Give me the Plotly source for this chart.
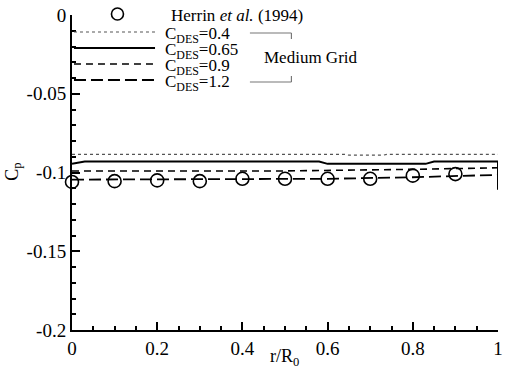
import plotly.graph_objects as go

# ---- data ----
r_exp = [0.0, 0.1, 0.2, 0.3, 0.4, 0.5, 0.6, 0.7, 0.8, 0.9]
cp_exp = [-0.106, -0.1055, -0.105, -0.1055, -0.104, -0.104, -0.104, -0.104, -0.102, -0.101]

r_04 = [0.0, 0.64, 0.65, 0.73, 0.74, 1.0]
cp_04 = [-0.0885, -0.0885, -0.089, -0.089, -0.0885, -0.0885]

r_065 = [0.0, 0.03, 0.58, 0.6, 0.83, 0.85, 1.0, 1.0]
cp_065 = [-0.0945, -0.093, -0.093, -0.0945, -0.0945, -0.093, -0.093, -0.111]

r_09 = [0.0, 0.5, 0.8, 1.0]
cp_09 = [-0.099, -0.099, -0.098, -0.097]

r_12 = [0.0, 0.6, 0.8, 1.0]
cp_12 = [-0.1045, -0.104, -0.103, -0.1015]

x_ticks = [0, 0.2, 0.4, 0.6, 0.8, 1]
x_ticklabels = ["0", "0.2", "0.4", "0.6", "0.8", "1"]
y_ticks = [0, -0.05, -0.1, -0.15, -0.2]
y_ticklabels = ["0", "-0.05", "-0.1", "-0.15", "-0.2"]

legend_labels = ["Herrin <i>et al.</i> (1994)", "C<sub>DES</sub>=0.4", "C<sub>DES</sub>=0.65",
                 "C<sub>DES</sub>=0.9", "C<sub>DES</sub>=1.2"]

FONT = "Liberation Serif"
W, H = 505, 373
L, R, T, B = 72, 2, 15, 43
PW, PH = W - L - R, H - T - B


def px(xp):
    return (xp - L) / PW


def py(yp):
    return (H - B - yp) / PH


fig = go.Figure()

styles = [
    (r_04, cp_04, dict(color="#555", width=1.2, dash="dot")),
    (r_065, cp_065, dict(color="black", width=2, dash="solid")),
    (r_09, cp_09, dict(color="black", width=1.6, dash="7px,5px")),
    (r_12, cp_12, dict(color="black", width=1.8, dash="12px,5px")),
]
for xs, ys, ln in styles:
    fig.add_trace(go.Scatter(x=xs, y=ys, mode="lines", line=ln, showlegend=False))

fig.add_trace(go.Scatter(x=r_exp, y=cp_exp, mode="markers",
                         marker=dict(symbol="circle-open", size=13, color="black",
                                     line=dict(width=1.6, color="black")),
                         showlegend=False, cliponaxis=False))

shapes = []
annotations = []
# legend: circle
shapes.append(dict(type="circle", xref="paper", yref="paper", xsizemode="pixel", ysizemode="pixel",
                   xanchor=px(118), yanchor=py(14), x0=-6, x1=6, y0=-6, y1=6,
                   line=dict(color="black", width=1.6)))
leg_y = [32, 48, 64, 80]
for (xs, ys, ln), yy in zip(styles, leg_y):
    shapes.append(dict(type="line", xref="paper", yref="paper", x0=px(74), x1=px(156),
                       y0=py(yy), y1=py(yy), line=ln))
annotations.append(dict(text=legend_labels[0], xref="paper", yref="paper", x=px(170), y=py(15),
                        xanchor="left", yanchor="middle", showarrow=False,
                        font=dict(family=FONT, size=17, color="black")))
for lab, yy in zip(legend_labels[1:], leg_y):
    annotations.append(dict(text=lab, xref="paper", yref="paper", x=px(164), y=py(yy + 3),
                            xanchor="left", yanchor="middle", showarrow=False,
                            font=dict(family=FONT, size=17, color="black")))
# bracket
br = dict(color="#777", width=1.2)
shapes.append(dict(type="line", xref="paper", yref="paper", x0=px(252), x1=px(294), y0=py(33), y1=py(33), line=br))
shapes.append(dict(type="line", xref="paper", yref="paper", x0=px(294), x1=px(294), y0=py(33), y1=py(39), line=br))
shapes.append(dict(type="line", xref="paper", yref="paper", x0=px(252), x1=px(294), y0=py(82), y1=py(82), line=br))
shapes.append(dict(type="line", xref="paper", yref="paper", x0=px(294), x1=px(294), y0=py(76), y1=py(82), line=br))
annotations.append(dict(text="Medium Grid", xref="paper", yref="paper", x=px(264), y=py(58),
                        xanchor="left", yanchor="middle", showarrow=False,
                        font=dict(family=FONT, size=17, color="black")))
# axis titles
annotations.append(dict(text="C<sub>p</sub>", xref="paper", yref="paper", x=px(12), y=py(172),
                        xanchor="center", yanchor="middle", textangle=-90, showarrow=False,
                        font=dict(family=FONT, size=18, color="black")))
annotations.append(dict(text="r/R<sub>0</sub>", xref="paper", yref="paper", x=px(287), y=py(358),
                        xanchor="center", yanchor="middle", showarrow=False,
                        font=dict(family=FONT, size=18, color="black")))

fig.update_layout(
    width=W, height=H,
    margin=dict(l=L, r=R, t=T, b=B),
    paper_bgcolor="white", plot_bgcolor="white",
    shapes=shapes, annotations=annotations,
    font=dict(family=FONT, size=19, color="black"),
)
fig.update_xaxes(range=[0, 1], tickvals=x_ticks, ticktext=x_ticklabels,
                 ticks="inside", ticklen=8, tickwidth=1.5, tickcolor="black",
                 showline=True, linecolor="black", linewidth=2, showgrid=False, zeroline=False,
                 ticklabeloverflow="allow",
                 minor=dict(ticks="inside", ticklen=4, dtick=0.05, tickcolor="black", showgrid=False),
                 tickfont=dict(family=FONT, size=19))
fig.update_yaxes(range=[-0.2, 0], tickvals=y_ticks, ticktext=y_ticklabels,
                 ticks="inside", ticklen=8, tickwidth=1.5, tickcolor="black",
                 showline=True, linecolor="black", linewidth=2, showgrid=False, zeroline=False,
                 ticklabeloverflow="allow",
                 minor=dict(ticks="inside", ticklen=4, dtick=0.01, tickcolor="black", showgrid=False),
                 tickfont=dict(family=FONT, size=19))

fig.write_html("out.html")
